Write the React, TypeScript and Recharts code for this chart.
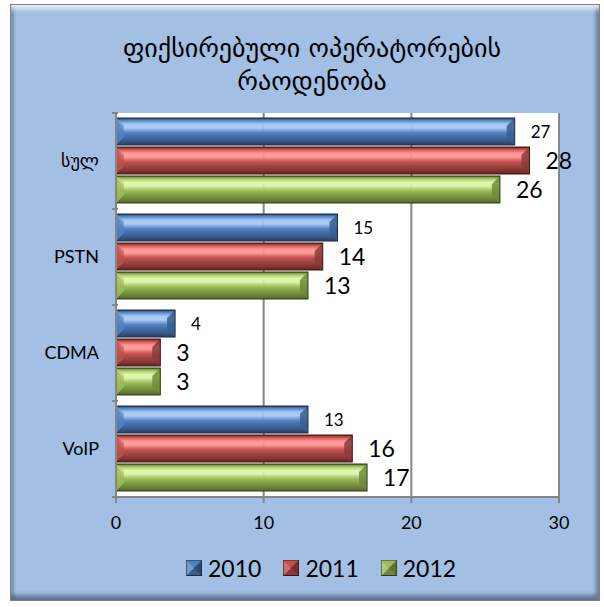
import React from 'react';
import { BarChart, Bar, XAxis, YAxis, CartesianGrid, LabelList } from 'recharts';

const categories = ['სულ', 'PSTN', 'CDMA', 'VoIP'];
const years = ['2010', '2011', '2012'];
const values2010 = [27, 15, 4, 13];
const values2011 = [28, 14, 3, 16];
const values2012 = [26, 13, 3, 17];
const xTicks = [0, 10, 20, 30];
const titleLines = ['ფიქსირებული ოპერატორების', 'რაოდენობა'];

const data = categories.map((name, i) => ({
  name,
  y2010: values2010[i],
  y2011: values2011[i],
  y2012: values2012[i],
}));

const W = 604;
const H = 607;
const M = { top: 113, right: 45, bottom: 70, left: 0 };
const YW = 116;
const XH = 40;
const PLOT_H = H - M.top - M.bottom - XH;
const BAND = PLOT_H / categories.length;

const palettes = [
  { id: 'gBlue', dark: '#263F63', mid: '#4F81BD', hi: '#A4C6F2', low: '#375E90', edge: '#1A2C45' },
  { id: 'gRed', dark: '#6A2523', mid: '#C0504D', hi: '#FF9391', low: '#8C3A38', edge: '#3E1514' },
  { id: 'gGreen', dark: '#55692A', mid: '#9BBB59', hi: '#DDF3A8', low: '#71893A', edge: '#2E3A15' },
];
const keys = ['y2010', 'y2011', 'y2012'];
const labelSizes = [17, 23, 23];
const FONT = 'Lato, "DejaVu Sans", sans-serif';

function Grads() {
  return (
    <defs>
      {palettes.map((p) => (
        <linearGradient key={p.id} id={p.id} x1="0" y1="0" x2="0" y2="1">
          <stop offset="0" stopColor={p.dark} />
          <stop offset="0.08" stopColor={p.mid} />
          <stop offset="0.22" stopColor={p.hi} />
          <stop offset="0.36" stopColor={p.hi} stopOpacity={0.9} />
          <stop offset="0.55" stopColor={p.mid} />
          <stop offset="0.82" stopColor={p.low} />
          <stop offset="1" stopColor={p.dark} />
        </linearGradient>
      ))}
    </defs>
  );
}

function BevelBar(props: any) {
  const { x, y, width, height, pi } = props;
  if (!width || width <= 0) return null;
  const p = palettes[pi];
  const b = Math.min(8, width / 2, height / 2);
  return (
    <g>
      <rect x={x} y={y} width={width} height={height} fill={`url(#${p.id})`} />
      <polygon
        points={`${x},${y} ${x + b},${y + b} ${x + b},${y + height - b} ${x},${y + height}`}
        fill={p.mid}
        opacity={0.85}
      />
      <polygon
        points={`${x},${y} ${x + b},${y + b} ${x + b},${y + height / 2}`}
        fill={p.hi}
        opacity={0.35}
      />
      <polygon
        points={`${x + width},${y} ${x + width - b},${y + b} ${x + width - b},${y + height - b} ${x + width},${y + height}`}
        fill={p.low}
        opacity={0.85}
      />
      <rect x={x} y={y} width={width} height={height} fill="none" stroke={p.edge} strokeWidth={1} />
    </g>
  );
}

function CatTick(props: any) {
  const { x, y, payload, index } = props;
  const ax = x + 10;
  const top = y - BAND / 2;
  return (
    <g>
      <line x1={ax - 6} y1={top} x2={ax} y2={top} stroke="#868686" strokeWidth={2} />
      {index === categories.length - 1 && (
        <line x1={ax - 6} y1={y + BAND / 2} x2={ax} y2={y + BAND / 2} stroke="#868686" strokeWidth={2} />
      )}
      <text x={ax - 19} y={y} dy="0.35em" textAnchor="end" fontSize={18} fill="#000" fontFamily={FONT}>
        {payload.value}
      </text>
    </g>
  );
}

function LegendSwatch({ pi }: { pi: number }) {
  const p = palettes[pi];
  return (
    <svg width={16} height={16} style={{ display: 'block' }}>
      <rect x={0.5} y={0.5} width={15} height={15} fill={p.low} stroke={p.edge} />
      <polygon points="0.5,0.5 15.5,0.5 8,8" fill={p.mid} />
      <polygon points="0.5,0.5 8,8 0.5,15.5" fill={p.hi} opacity={0.6} />
      <polygon points="15.5,0.5 15.5,15.5 8,8" fill={p.dark} opacity={0.7} />
    </svg>
  );
}

export default function App() {
  return (
    <div style={{ position: 'absolute', left: 0, top: 0, width: W, height: H, background: '#fff' }}>
      <div
        style={{
          position: 'absolute',
          left: 10,
          top: 4,
          width: 588,
          height: 595,
          border: '1px solid #7f7f7f',
          background: '#A3BFE3',
          boxShadow:
            'inset 0 7px 5px -3px rgba(235,245,255,0.9), inset 4px 0 3px -1px rgba(60,80,110,0.45), inset -4px -6px 4px -1px rgba(40,60,90,0.55)',
        }}
      />
      <div
        style={{
          position: 'absolute',
          left: 10,
          width: 590,
          top: 32,
          textAlign: 'center',
          fontFamily: '"DejaVu Sans", sans-serif',
          fontSize: 26,
          lineHeight: '33px',
          color: '#000',
        }}
      >
        <div style={{ paddingLeft: 14 }}>{titleLines[0]}</div>
        <div style={{ paddingLeft: 14 }}>{titleLines[1]}</div>
      </div>
      <div style={{ position: 'absolute', left: 0, top: 0 }}>
        <BarChart
          width={W}
          height={H}
          data={data}
          layout="vertical"
          margin={M}
          barCategoryGap={5}
          barGap={2}
        >
          <Grads />
          <CartesianGrid horizontal={false} vertical stroke="#878787" strokeWidth={2} fill="#ffffff" />
          <XAxis
            type="number"
            domain={[0, 30]}
            ticks={xTicks}
            height={XH}
            axisLine={{ stroke: '#868686', strokeWidth: 2 }}
            tickLine={{ stroke: '#868686', strokeWidth: 2 }}
            tickSize={6}
            tickMargin={13}
            tick={{ fontSize: 18, fill: '#000', fontFamily: FONT }}
          />
          <YAxis
            type="category"
            dataKey="name"
            width={YW}
            axisLine={{ stroke: '#868686', strokeWidth: 2 }}
            tickLine={false}
            tick={<CatTick />}
          />
          {keys.map((k, i) => (
            <Bar
              key={k}
              dataKey={k}
              name={years[i]}
              isAnimationActive={false}
              shape={(p: any) => <BevelBar {...p} pi={i} />}
            >
              <LabelList
                dataKey={k}
                position="right"
                offset={16}
                fontSize={labelSizes[i]}
                fill="#000"
                fontFamily={FONT}
              />
            </Bar>
          ))}
        </BarChart>
      </div>
      <div
        style={{
          position: 'absolute',
          left: 186,
          top: 554,
          display: 'flex',
          alignItems: 'center',
          fontFamily: FONT,
          fontSize: 23,
          color: '#000',
        }}
      >
        {years.map((yr, i) => (
          <div key={yr} style={{ display: 'flex', alignItems: 'center', marginRight: 22 }}>
            <LegendSwatch pi={i} />
            <span style={{ marginLeft: 6 }}>{yr}</span>
          </div>
        ))}
      </div>
    </div>
  );
}
